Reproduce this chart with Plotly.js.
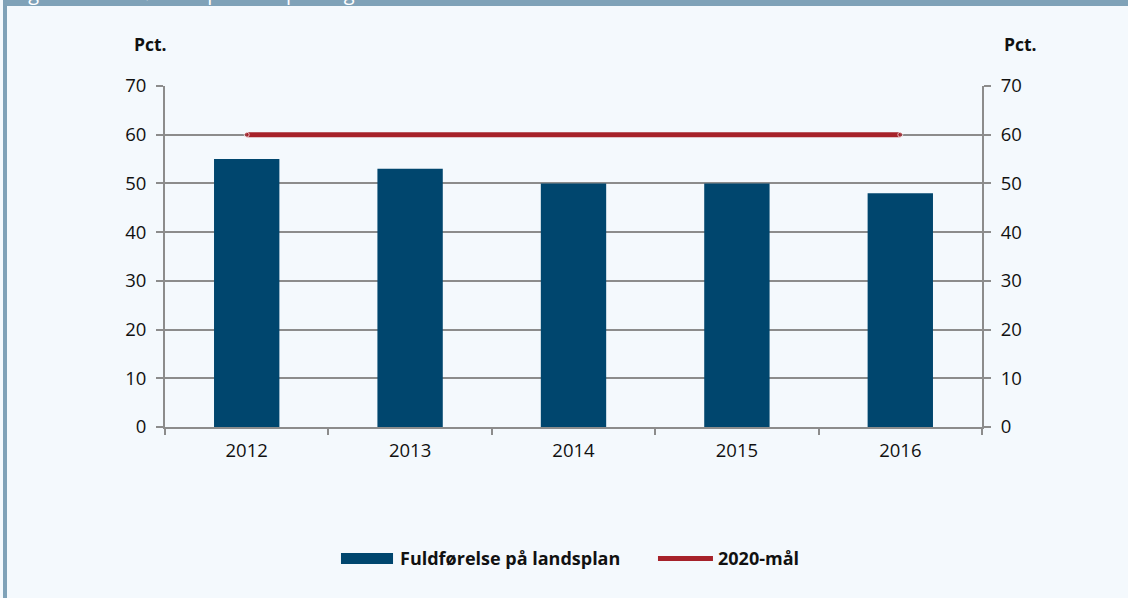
<!DOCTYPE html>
<html>
<head>
<meta charset="utf-8">
<script src="https://cdn.plot.ly/plotly-3.0.1.min.js"></script>
<style>
html,body{margin:0;padding:0;background:#f4f9fd;overflow:hidden;}
#chart{position:absolute;left:0;top:0;width:1128px;height:598px;}
#band{position:absolute;left:3px;top:0;width:1125px;height:6px;background:#7fa2b8;overflow:hidden;z-index:5;}
#band span{position:absolute;left:10px;top:-17px;font-family:"Open Sans",sans-serif;font-size:20px;color:#ffffff;white-space:nowrap;line-height:20px;}
#side{position:absolute;left:3px;top:0;width:4px;height:598px;background:#7fa2b8;z-index:5;}
</style>
</head>
<body>
<div id="chart"></div>
<div id="band"><span>Figur 2.1 Fuldførelse på landsplan og 2020-mål</span></div>
<div id="side"></div>
<script>
const years = ["2012", "2013", "2014", "2015", "2016"];
const completion = [55, 53, 50, 50, 48];
const target2020 = [60, 60, 60, 60, 60];
const seriesNames = ["Fuldførelse på landsplan", "2020-mål"];
const unitLabel = "Pct.";

const barColor = "#00466e";
const lineColor = "#a6222a";
const gridColor = "#8c8c8c";
const font = "Open Sans, Noto Sans, sans-serif";

const traces = [
  {type: "bar", x: years, y: completion, name: seriesNames[0], marker: {color: barColor}, width: 0.4, yaxis: "y", showlegend: false, hoverinfo: "x+y"},
  {type: "scatter", mode: "lines+markers", x: years, y: target2020, name: seriesNames[1], line: {color: lineColor, width: 5}, marker: {color: lineColor, size: [5,0,0,0,5]}, yaxis: "y2", showlegend: false}
];

const yCommon = {
  range: [0, 70], dtick: 10, tick0: 0, ticks: "outside", ticklen: 7, tickwidth: 2, tickcolor: gridColor,
  showline: true, linecolor: gridColor, linewidth: 2, zeroline: false,
  tickfont: {family: font, size: 18.5, color: "#111"}, ticklabelstandoff: 6, fixedrange: true
};

const layout = {
  width: 1128, height: 598,
  margin: {l: 165, r: 146, t: 86, b: 171, pad: 0},
  paper_bgcolor: "#f4f9fd", plot_bgcolor: "#f4f9fd",
  showlegend: false,
  bargap: 0.6,
  xaxis: {
    type: "category", tickson: "boundaries", ticks: "outside", ticklen: 6, tickwidth: 2, tickcolor: gridColor,
    showline: true, linecolor: gridColor, linewidth: 2, showgrid: false,
    tickfont: {family: font, size: 18.5, color: "#111"}, ticklabelstandoff: 6
  },
  yaxis: Object.assign({}, yCommon, {side: "left", showgrid: true, gridcolor: gridColor, gridwidth: 2}),
  yaxis2: Object.assign({}, yCommon, {side: "right", overlaying: "y", showgrid: false}),
  shapes: [
    {type: "rect", xref: "paper", yref: "paper", x0: 0.2154, x1: 0.2791, y0: -0.3695, y1: -0.4018, fillcolor: barColor, line: {width: 0}},
    {type: "line", xref: "paper", yref: "paper", x0: 0.6034, x1: 0.6707, y0: -0.3856, y1: -0.3856, line: {color: lineColor, width: 5}}
  ],
  annotations: [
    {xref: "paper", yref: "paper", x: -0.018, y: 1.123, text: "<b>" + unitLabel + "</b>", showarrow: false, font: {family: font, size: 17.5, color: "#111"}, xanchor: "center", yanchor: "middle"},
    {xref: "paper", yref: "paper", x: 1.0475, y: 1.123, text: "<b>" + unitLabel + "</b>", showarrow: false, font: {family: font, size: 17.5, color: "#111"}, xanchor: "center", yanchor: "middle"},
    {xref: "paper", yref: "paper", x: 0.2852, y: -0.3856, text: "<b>" + seriesNames[0] + "</b>", showarrow: false, font: {family: font, size: 18, color: "#111"}, xanchor: "left", yanchor: "middle"},
    {xref: "paper", yref: "paper", x: 0.6744, y: -0.3856, text: "<b>" + seriesNames[1] + "</b>", showarrow: false, font: {family: font, size: 18, color: "#111"}, xanchor: "left", yanchor: "middle"}
  ]
};

Plotly.newPlot("chart", traces, layout, {displayModeBar: false, staticPlot: true});
</script>
</body>
</html>
